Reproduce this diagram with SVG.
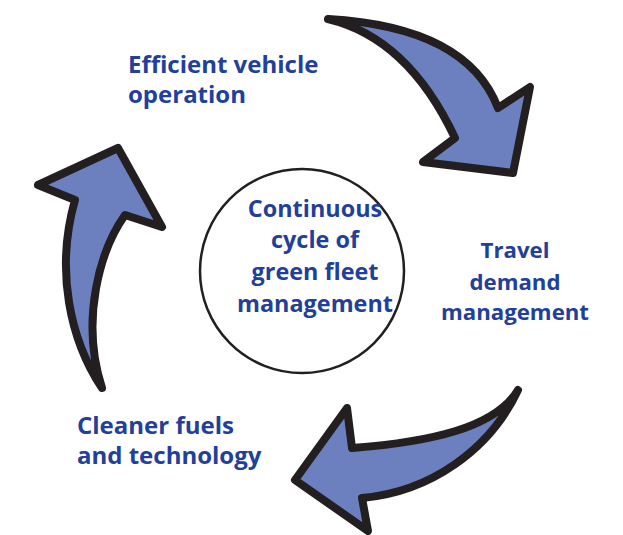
<svg xmlns="http://www.w3.org/2000/svg" width="623" height="535" viewBox="0 0 623 535">
<style>
.arrow{fill:#6c7fbe;stroke:#231f20;stroke-width:8;stroke-linejoin:round;stroke-linecap:round}
.lbl{font-family:"Open Sans",Lato,sans-serif;font-weight:700;font-size:24px;fill:#22409a}
.mid{text-anchor:middle}
</style>
<rect width="623" height="535" fill="#ffffff"/>
<g id="center">
<circle cx="302" cy="271" r="102" fill="#ffffff" stroke="#231f20" stroke-width="2.5"/>
<text class="lbl mid" x="315" style="font-size:23.4px"><tspan x="315" y="217">Continuous</tspan><tspan x="315" y="248">cycle of</tspan><tspan x="315" y="280">green fleet</tspan><tspan x="315" y="312">management</tspan></text>
</g>
<g id="connectors">
<path class="arrow" d="M328,19 Q467,27 498,108 L530,87 L513,173 L423,162 L455,138 Q408,38 328,19 Z"/>
<path class="arrow" d="M518,390 C495,428 430,442 352,448 L347,408 L295,480 L368,531 L362,498 C430,492 490,450 518,390 Z"/>
<path class="arrow" d="M102,388 C70,340 55,270 75,200 L38,185 L118,148 L162,227 L125,215 C100,250 80,320 102,388 Z"/>
</g>
<g id="efficient">
<text class="lbl"><tspan x="128" y="73">Efficient vehicle</tspan><tspan x="128" y="103">operation</tspan></text>
</g>
<g id="travel">
<text class="lbl mid" style="font-size:22.2px"><tspan x="515" y="258">Travel</tspan><tspan x="515" y="290">demand</tspan><tspan x="515" y="320">management</tspan></text>
</g>
<g id="cleaner">
<text class="lbl"><tspan x="77" y="434">Cleaner fuels</tspan><tspan x="77" y="464">and technology</tspan></text>
</g>
</svg>
